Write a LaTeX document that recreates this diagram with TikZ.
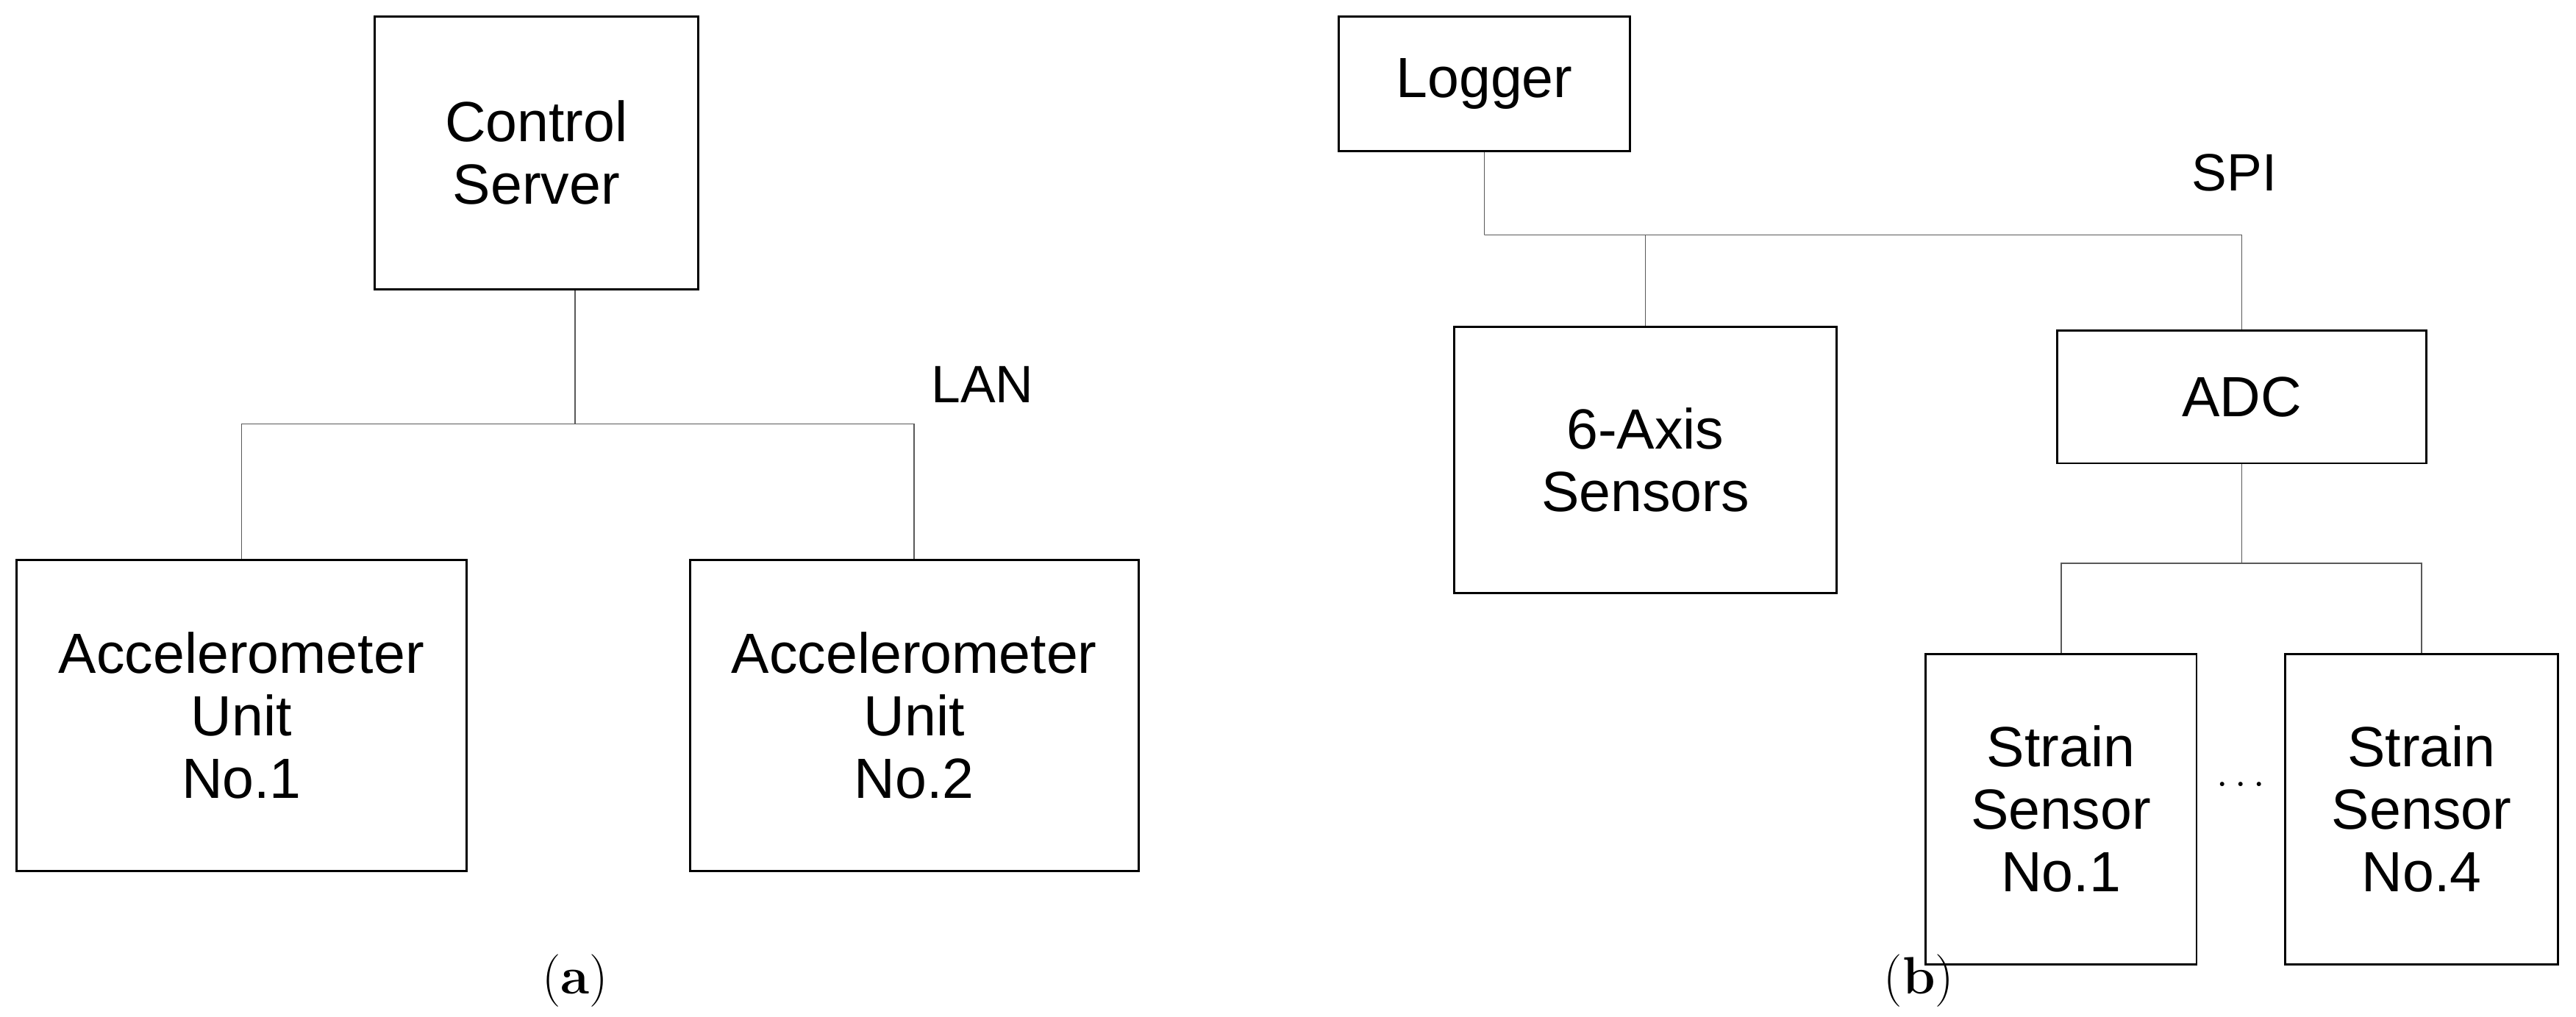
\documentclass[tikz,border=0pt]{standalone}
\usepackage{fontspec}
\setmainfont{Liberation Sans}
\newfontfamily\capfont{Latin Modern Roman}
\begin{document}
\begin{tikzpicture}[x=1pt,y=-1pt,
  box/.style={draw,line width=1.3pt,align=center,inner sep=0pt,font=\fontsize{34.5}{38}\selectfont},
  lbl/.style={font=\fontsize{32}{36}\selectfont},
  captxt/.style={font=\capfont\fontsize{32}{36}\selectfont},
  ln/.style={line width=0.8pt,gray!70!black}]
\useasboundingbox (0,0) rectangle (1568,619);
% (a)
\node[box,minimum width=197pt,minimum height=166pt] (cs) at (326.5,93) {Control\\Server};
\node[box,minimum width=274pt,minimum height=189pt] (a1) at (147,435.5) {Accelerometer\\Unit\\No.1};
\node[box,minimum width=273pt,minimum height=189pt] (a2) at (556.5,435.5) {Accelerometer\\Unit\\No.2};
\coordinate (ja) at (350,258);
\draw[ln] (cs.south -| ja) -- (ja);
\draw[ln] (a1.north) |- (ja) -| (a2.north);
\node[lbl] (lan) at (598,234) {LAN};
\node[captxt] (capa) at (350,597) {(\textbf{a})};
% (b)
\node[box,minimum width=177pt,minimum height=82pt] (lg) at (903.5,51) {Logger};
\node[box,minimum width=233pt,minimum height=162pt] (s6) at (1001.5,280) {6-Axis\\Sensors};
\node[box,minimum width=225pt,minimum height=81pt] (adc) at (1364.5,241.5) {ADC};
\node[box,minimum width=165pt,minimum height=189pt] (st1) at (1254.5,492.5) {Strain\\Sensor\\No.1};
\node[box,minimum width=166pt,minimum height=189pt] (st4) at (1474,492.5) {Strain\\Sensor\\No.4};
\coordinate (jb) at (903.5,143);
\draw[ln] (lg.south) -- (jb);
\draw[ln] (s6.north) |- (jb) -| (adc.north);
\coordinate (jc) at (1364.5,343);
\draw[ln] (adc.south) -- (jc);
\draw[ln] (st1.north) |- (jc) -| (st4.north);
\node[lbl] (spi) at (1360,105) {SPI};
\node[font=\fontsize{40}{44}\selectfont] (dots) at (1364,478) {$\cdots$};
\node[captxt] (capb) at (1168,597) {(\textbf{b})};
\end{tikzpicture}
\end{document}
